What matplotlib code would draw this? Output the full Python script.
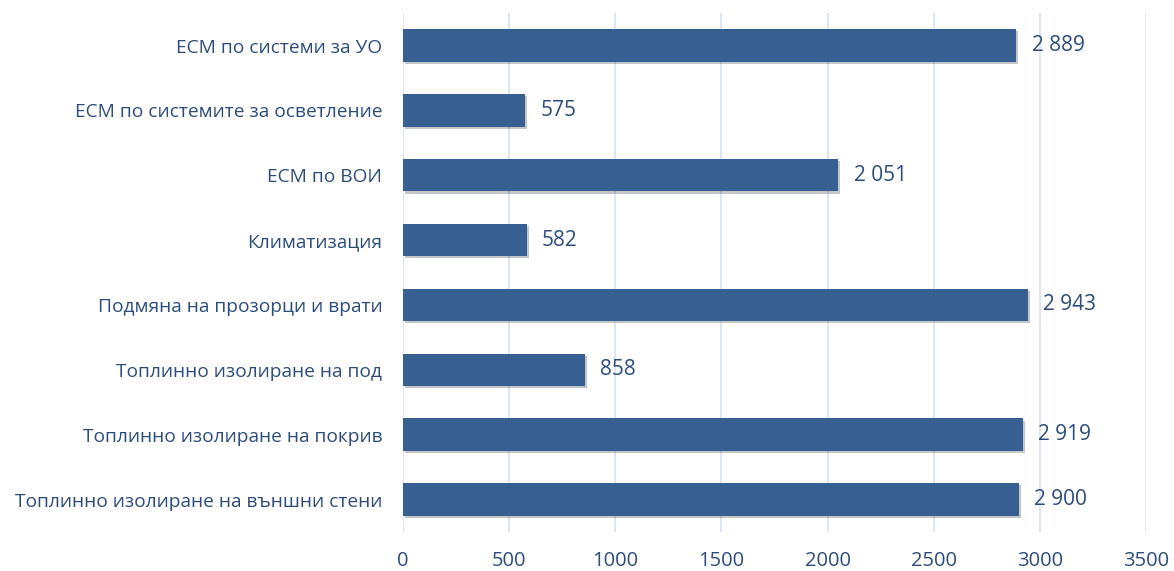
import matplotlib
matplotlib.use("Agg")
import matplotlib.pyplot as plt
import matplotlib.patheffects as pe

categories = [
    "ЕСМ по системи за УО",
    "ЕСМ по системите за осветление",
    "ЕСМ по ВОИ",
    "Климатизация",
    "Подмяна на прозорци и врати",
    "Топлинно изолиране на под",
    "Топлинно изолиране на покрив",
    "Топлинно изолиране на външни стени",
]
values = [2889, 575, 2051, 582, 2943, 858, 2919, 2900]
xticks = [0, 500, 1000, 1500, 2000, 2500, 3000, 3500]

BAR_COLOR = "#375F91"
TEXT_COLOR = "#2C4D7C"
GRID_COLOR = "#D5E1F2"

plt.rcParams['font.family'] = ['Open Sans', 'DejaVu Sans']

fig = plt.figure(figsize=(11.74, 5.71), dpi=100)
ax = fig.add_axes([0.3433, 0.0683, 0.6328, 0.9087])

ypos = list(range(len(categories)))
bars = ax.barh(ypos, values, height=0.5, color=BAR_COLOR, zorder=3,
               path_effects=[pe.SimplePatchShadow(offset=(1.5, -1.5), alpha=0.25), pe.Normal()])

for y, v in zip(ypos, values):
    txt = f"{v:,}".replace(",", " ")
    ax.annotate(txt, (v, y), xytext=(11, 0), textcoords="offset points",
                va="center", ha="left", fontsize=15, color=TEXT_COLOR)

ax.set_ylim(len(categories) - 0.5, -0.5)
ax.set_xlim(0, 3500)
ax.set_xticks(xticks)
ax.set_xticklabels([str(t) for t in xticks], fontsize=14.5, color=TEXT_COLOR)
ax.set_yticks(ypos)
ax.set_yticklabels(categories, fontsize=13.8, color=TEXT_COLOR)
ax.tick_params(axis="both", length=0)
ax.tick_params(axis="y", pad=15)
ax.tick_params(axis="x", pad=14)
ax.grid(axis="x", color=GRID_COLOR, linewidth=1.2, zorder=0)
for s in ax.spines.values():
    s.set_visible(False)

fig.savefig("out.png", dpi=100)
